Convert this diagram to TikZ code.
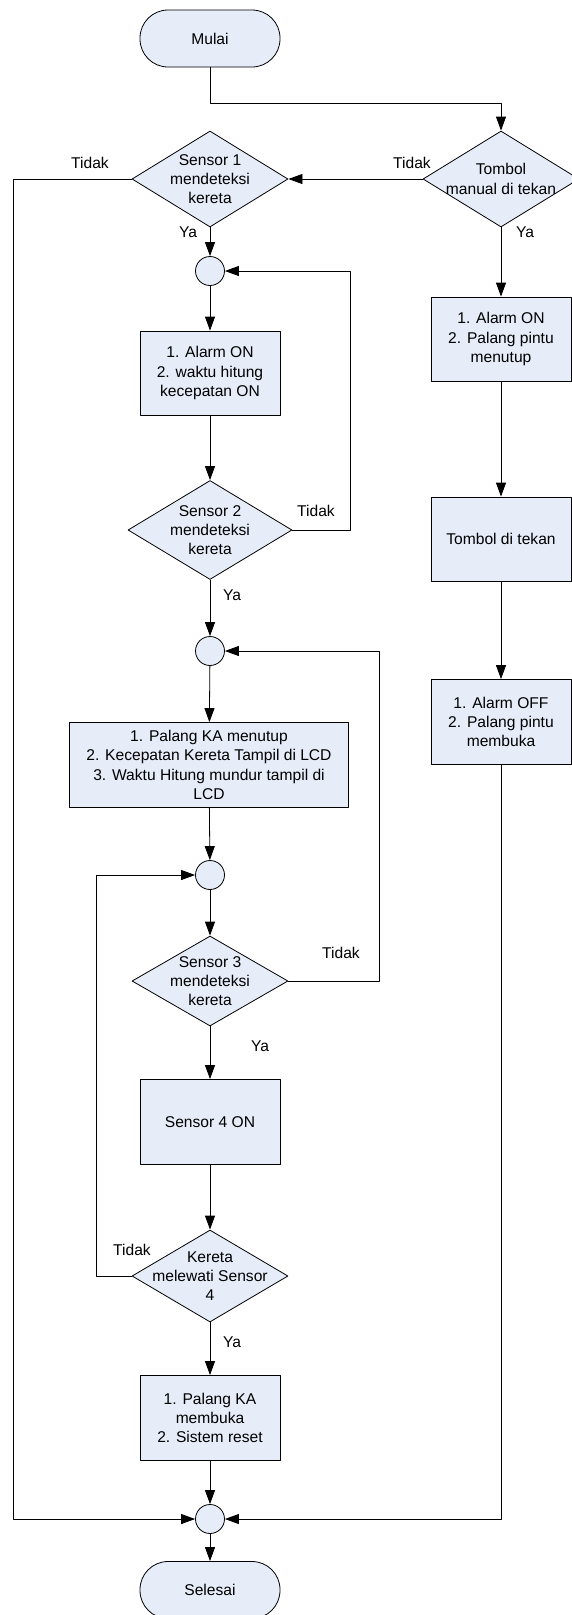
\documentclass[tikz,border=0pt]{standalone}
\usepackage{fontspec}
\setmainfont{Liberation Sans}
\usetikzlibrary{shapes.geometric,arrows.meta}
\definecolor{boxfill}{RGB}{230,236,248}
\begin{document}
\begin{tikzpicture}[x=1pt, y=-1pt, font=\fontsize{15.6}{19.3}\selectfont, line join=round, line width=0.8pt,
	>={Triangle[length=14pt,width=10pt]},
	box/.style={draw, fill=boxfill, minimum width=140, minimum height=84, align=center, inner sep=1pt},
	term/.style={draw, fill=boxfill, rounded corners=28, minimum width=140, minimum height=57},
	decide/.style={diamond, draw, fill=boxfill, minimum width=156, minimum height=96, inner sep=0pt},
	dtext/.style={align=center, inner sep=0pt},
	junc/.style={circle, draw, fill=boxfill, minimum size=29, inner sep=0pt},
	lbl/.style={inner sep=0pt}]
				\useasboundingbox (0,0) rectangle (572,1615);
				\node[term] (mulai) at (210,38.5) {Mulai};
				\node[decide] (s1) at (210,179) {};
				\node[dtext] (s1t) at (s1) {Sensor 1\\mendeteksi\\kereta};
				\node[decide] (tb) at (501,179) {};
				\node[dtext] (tbt) at (tb) {Tombol\\manual di tekan};
				\node[junc] (c1) at (210,271) {};
				\node[box] (a1) at (210,373) {1. Alarm ON\\2. waktu hitung\\kecepatan ON};
				\node[decide, minimum width=164, minimum height=99] (s2) at (210,530) {};
				\node[dtext] (s2t) at (s2) {Sensor 2\\mendeteksi\\kereta};
				\node[junc] (c2) at (210,651) {};
				\node[box, minimum width=279, minimum height=85] (b1) at (209,765) {1. Palang KA menutup\\2. Kecepatan Kereta Tampil di LCD\\3. Waktu Hitung mundur tampil di\\LCD};
				\node[junc] (c3) at (210,875) {};
				\node[decide, minimum height=90] (s3) at (210,981) {};
				\node[dtext] (s3t) at (s3) {Sensor 3\\mendeteksi\\kereta};
				\node[box, minimum height=85] (s4) at (210,1122) {Sensor 4 ON};
				\node[decide, minimum height=92] (kr) at (210,1276) {};
				\node[dtext] (krt) at (kr) {Kereta\\melewati Sensor\\4};
				\node[box, minimum height=85] (reset) at (210,1418) {1. Palang KA\\membuka\\2. Sistem reset};
				\node[junc] (c4) at (210,1519) {};
				\node[term] (selesai) at (210,1590) {Selesai};
				\node[box] (r1) at (501,339) {1. Alarm ON\\2. Palang pintu\\menutup};
				\node[box] (r2) at (501,539) {Tombol di tekan};
				\node[box, minimum height=85] (r3) at (501,722) {1. Alarm OFF\\2. Palang pintu\\membuka};
				\draw[->] (mulai.south) -- ++(0,35.5) -| (tb.north);
				\draw[->] (tb.west) -- (s1.east);
				\draw[->] (s1) -- (c1);
				\draw[->] (c1) -- (a1);
				\draw[->] (a1) -- (s2);
				\draw[->] (s2.east) -- ++(58,0) |- (c1);
				\draw[->] (s2) -- (c2);
				\draw[->] (c2) -- (b1);
				\draw[->] (b1) -- (c3);
				\draw[->] (c3) -- (s3);
				\draw[->] (s3.east) -- ++(91,0) |- (c2);
				\draw[->] (s3) -- (s4);
				\draw[->] (s4) -- (kr);
				\draw[->] (kr.west) -- ++(-35,0) |- (c3);
				\draw[->] (kr) -- (reset);
				\draw[->] (reset) -- (c4);
				\draw[->] (c4) -- (selesai);
				\draw[->] (s1.west) -- ++(-118.5,0) |- (c4);
				\draw[->] (tb) -- (r1);
				\draw[->] (r1) -- (r2);
				\draw[->] (r2) -- (r3);
				\draw[->] (r3) |- (c4);
				\path (90,163) node[lbl] (tidak1) {Tidak}
				(412,163) node[lbl] (tidak2) {Tidak}
				(316,511) node[lbl] (tidak3) {Tidak}
				(341,953) node[lbl] (tidak4) {Tidak}
				(132,1250) node[lbl] (tidak5) {Tidak}
				(188,232) node[lbl] (ya1) {Ya}
				(525,232) node[lbl] (ya2) {Ya}
				(232,595) node[lbl] (ya3) {Ya}
				(260,1046) node[lbl] (ya4) {Ya}
				(232,1342) node[lbl] (ya5) {Ya}
				;
\end{tikzpicture}
\end{document}
